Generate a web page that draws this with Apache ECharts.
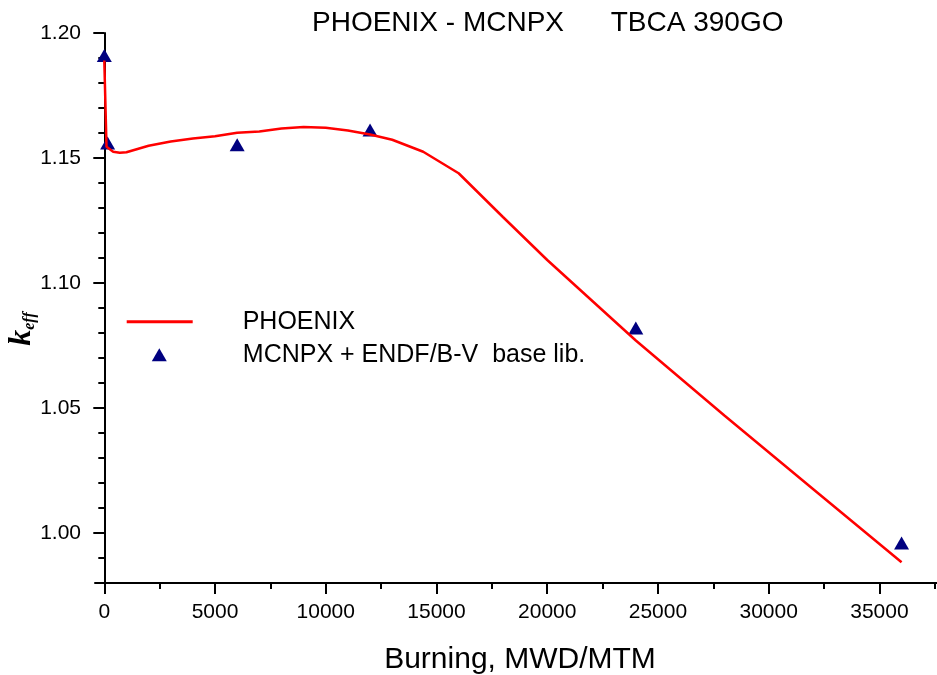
<!DOCTYPE html>
<html>
<head>
<meta charset="utf-8">
<script src="https://cdn.jsdelivr.net/npm/echarts@6/dist/echarts.min.js"></script>
<style>
html,body{margin:0;padding:0;background:#fff;}
#chart{width:937px;height:675px;}
</style>
</head>
<body>
<div id="chart"></div>
<script>
// PHOENIX calculation (red line)
const phoenixX = [0, 100, 400, 700, 1000, 2000, 3000, 4000, 5000, 6000, 7000, 8000, 9000, 10000, 11000, 12000, 13000, 14400, 16000, 18000, 20000, 24000, 28000, 32000, 36000];
const phoenixK = [1.189, 1.1545, 1.1525, 1.1521, 1.1523, 1.1549, 1.1566, 1.1578, 1.1587, 1.1601, 1.1606, 1.1618, 1.1624, 1.1621, 1.1610, 1.1594, 1.1573, 1.1525, 1.1439, 1.1264, 1.1092, 1.0770, 1.0470, 1.0176, 0.9883];
// MCNPX + ENDF/B-V (triangles)
const mcnpxX = [0, 150, 6000, 12000, 24000, 36000];
const mcnpxK = [1.191, 1.156, 1.1553, 1.1612, 1.082, 0.996];
// tick labels
const xMajorTicks = [0, 5000, 10000, 15000, 20000, 25000, 30000, 35000];
const xMinorTicks = [2500, 7500, 12500, 17500, 22500, 27500, 32500, 37500];
const yMajorTicks = [1.00, 1.05, 1.10, 1.15, 1.20];
const yMinorTicks = [0.99, 1.01, 1.02, 1.03, 1.04, 1.06, 1.07, 1.08, 1.09, 1.11, 1.12, 1.13, 1.14, 1.16, 1.17, 1.18, 1.19];

const seriesNames = ['PHOENIX', 'MCNPX + ENDF/B-V  base lib.'];
const titleText = 'PHOENIX - MCNPX      TBCA 390GO';
const xName = 'Burning, MWD/MTM';

const FONT = 'Liberation Sans, Arial, sans-serif';
const SERIF = 'Liberation Serif, Times New Roman, serif';
const X_MIN = -420, X_MAX = 37600, Y_MIN = 0.98, Y_MAX = 1.20;

const chart = echarts.init(document.getElementById('chart'), null, {renderer: 'canvas'});
const axisLine = {show: true, lineStyle: {color: '#000', width: 2}};
chart.setOption({
  animation: false,
  backgroundColor: '#fff',
  title: {
    text: titleText, left: 312, top: 9, padding: 0,
    textStyle: {fontFamily: FONT, fontSize: 28, fontWeight: 'normal', color: '#000'}
  },
  legend: [
    {
      data: [{name: seriesNames[0], icon: 'rect'}],
      left: 126.7, top: 309.2, padding: 0, orient: 'vertical',
      itemWidth: 66, itemHeight: 3, selectedMode: false,
      textStyle: {fontFamily: FONT, fontSize: 25, color: '#000', padding: [0, 0, 0, 45]}
    },
    {
      data: [{name: seriesNames[1], icon: 'triangle'}],
      left: 151.8, top: 342.2, padding: 0, orient: 'vertical',
      itemWidth: 15, itemHeight: 13, selectedMode: false,
      itemStyle: {opacity: 1},
      textStyle: {fontFamily: FONT, fontSize: 25, color: '#000', padding: [0, 0, 0, 71]}
    }
  ],
  grid: {left: 95, right: 0, top: 33, bottom: 92, containLabel: false, outerBoundsMode: 'none'},
  xAxis: [
    {
      type: 'value', position: 'bottom', min: X_MIN, max: X_MAX,
      name: xName, nameLocation: 'middle', nameGap: 62, nameMoveOverlap: false,
      nameTextStyle: {fontFamily: FONT, fontSize: 30, color: '#000', padding: [0, 0, 0, 8]},
      axisLine: axisLine,
      axisTick: {show: true, length: 11, customValues: xMajorTicks, lineStyle: {color: '#000', width: 2}},
      axisLabel: {show: true, customValues: xMajorTicks, margin: 19, fontFamily: FONT, fontSize: 21, color: '#000',
        formatter: v => String(v)},
      splitLine: {show: false}
    },
    {
      type: 'value', position: 'bottom', min: X_MIN, max: X_MAX,
      axisLine: {show: false},
      axisTick: {show: true, length: 6, customValues: xMinorTicks, lineStyle: {color: '#000', width: 2}},
      axisLabel: {show: false},
      splitLine: {show: false}
    }
  ],
  yAxis: [
    {
      type: 'value', position: 'left', offset: -6, min: Y_MIN, max: Y_MAX,
      name: '{k|k}{s|eff}', nameLocation: 'middle', nameGap: 63, nameRotate: 90, nameMoveOverlap: false,
      nameTextStyle: {
        padding: [0, 42, 0, 0],
        rich: {
          k: {fontFamily: SERIF, fontSize: 32, fontWeight: 'bold', fontStyle: 'italic', color: '#000', lineHeight: 32, verticalAlign: 'bottom'},
          s: {fontFamily: SERIF, fontSize: 16, fontWeight: 'bold', fontStyle: 'italic', color: '#000', lineHeight: 16, verticalAlign: 'bottom'}
        }
      },
      axisLine: axisLine,
      axisTick: {show: true, length: 11, customValues: yMajorTicks, lineStyle: {color: '#000', width: 2}},
      axisLabel: {show: true, customValues: yMajorTicks, margin: 20, fontFamily: FONT, fontSize: 21, color: '#000',
        formatter: v => Number(v).toFixed(2)},
      splitLine: {show: false}
    },
    {
      type: 'value', position: 'left', offset: -6, min: Y_MIN, max: Y_MAX,
      axisLine: {show: false},
      axisTick: {show: true, length: 6, customValues: yMinorTicks, lineStyle: {color: '#000', width: 2}},
      axisLabel: {show: false},
      splitLine: {show: false}
    }
  ],
  series: [
    {
      name: seriesNames[0], type: 'line', xAxisIndex: 0, yAxisIndex: 0,
      data: phoenixX.map((x, i) => [x, phoenixK[i]]),
      showSymbol: false, symbol: 'none', smooth: false,
      lineStyle: {color: '#ff0000', width: 2.5},
      itemStyle: {color: '#ff0000'}
    },
    {
      name: seriesNames[1], type: 'scatter', xAxisIndex: 0, yAxisIndex: 0,
      data: mcnpxX.map((x, i) => [x, mcnpxK[i]]),
      symbol: 'triangle', symbolSize: [15, 13],
      itemStyle: {color: '#000080', opacity: 1}
    }
  ]
});
</script>
</body>
</html>
